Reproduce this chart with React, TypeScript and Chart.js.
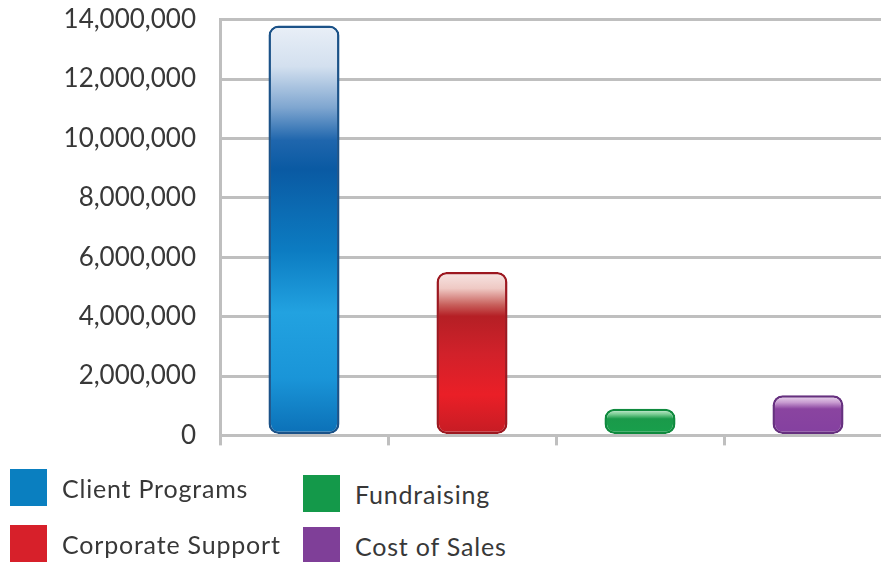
import React, { useEffect, useRef } from "react";
import { Chart, registerables } from "chart.js";

Chart.register(...registerables);

const categories = ["Client Programs", "Corporate Support", "Fundraising", "Cost of Sales"];
const values = [13800000, 5500000, 900000, 1350000];
const yMin = 0;
const yMax = 14000000;
const yStep = 2000000;

const swatchColors = ["#0a7fc0", "#d7202a", "#14994a", "#7f3f98"];
const borderColors = ["#1b5288", "#9c1820", "#0f8a3e", "#66307f"];
const gradientStops: [number, string][][] = [
  [
    [0, "#e9eff7"],
    [0.1, "#d3e0ef"],
    [0.2, "#7fa6d0"],
    [0.28, "#1f66ad"],
    [0.35, "#0a5aa3"],
    [0.55, "#0c7cc2"],
    [0.7, "#22a2e0"],
    [0.86, "#1a95d8"],
    [1, "#0b6fb6"],
  ],
  [
    [0, "#f7e6e4"],
    [0.1, "#efc9c4"],
    [0.2, "#c8605c"],
    [0.27, "#b51f25"],
    [0.5, "#d1212a"],
    [0.75, "#ea1f27"],
    [1, "#c41c24"],
  ],
  [
    [0, "#d6efdd"],
    [0.2, "#7fcf97"],
    [0.38, "#1a9a4a"],
    [1, "#18a04c"],
  ],
  [
    [0, "#f0dff2"],
    [0.18, "#c79ad0"],
    [0.34, "#8a44a0"],
    [1, "#8440a0"],
  ],
];

const FONT = "Lato, 'Open Sans', sans-serif";
const TEXT = "#383838";
const GRID = "#bfbfbf";

const legendPlacement = [
  { left: 10, top: 469 },
  { left: 10, top: 525 },
  { left: 303, top: 475 },
  { left: 303, top: 527 },
];

export default function App() {
  const canvasRef = useRef<HTMLCanvasElement | null>(null);

  useEffect(() => {
    document.body.style.margin = "0";
    const canvas = canvasRef.current;
    if (!canvas) return;
    const chart = new Chart(canvas, {
      type: "bar",
      data: {
        labels: categories,
        datasets: [
          {
            data: values,
            backgroundColor: (ctx: any) => {
              const i = ctx.dataIndex;
              const ys = ctx.chart.scales?.y;
              if (ctx.type !== "data" || !ys) return swatchColors[i];
              const top = ys.getPixelForValue(ctx.raw);
              const bot = ys.getPixelForValue(0);
              if (!isFinite(top) || !isFinite(bot) || bot === top) return swatchColors[i];
              const g = ctx.chart.ctx.createLinearGradient(0, top, 0, bot);
              gradientStops[i].forEach(([o, c]) => g.addColorStop(o, c));
              return g;
            },
            borderColor: borderColors,
            borderWidth: 2.5,
            borderRadius: 10,
            borderSkipped: false,
            categoryPercentage: 1,
            barPercentage: 0.423,
          },
        ],
      },
      options: {
        responsive: false,
        animation: false,
        layout: { padding: { top: 2, left: 0, right: 0, bottom: 0 } },
        plugins: {
          legend: { display: false },
          tooltip: { enabled: false },
        },
        scales: {
          x: {
            grid: {
              display: true,
              drawOnChartArea: false,
              drawTicks: true,
              tickLength: 10,
              color: GRID,
              lineWidth: 3,
            },
            border: { display: false },
            ticks: { display: false },
            afterFit: (scale: any) => {
              scale.height = 20;
            },
          },
          y: {
            min: yMin,
            max: yMax,
            grid: { color: GRID, lineWidth: 3, drawTicks: false },
            border: { display: true, color: GRID, width: 3 },
            ticks: {
              stepSize: yStep,
              padding: 24,
              color: TEXT,
              font: { family: FONT, size: 26 },
              callback: (v: any) => Number(v).toLocaleString("en-US"),
            },
            afterFit: (scale: any) => {
              scale.width = 220;
            },
          },
        },
      },
    });
    return () => chart.destroy();
  }, []);

  const legendItems = categories.map((c, i) => ({ label: c, color: swatchColors[i], ...legendPlacement[i] }));

  return (
    <div style={{ position: "relative", width: 881, height: 562, overflow: "hidden", background: "#ffffff" }}>
      <canvas ref={canvasRef} width={892} height={495} style={{ position: "absolute", left: 0, top: -20, width: 892, height: 495 }} />
      {legendItems.map((it) => (
        <div
          key={it.label}
          style={{
            position: "absolute",
            left: it.left,
            top: it.top,
            display: "flex",
            alignItems: "center",
            fontFamily: FONT,
            fontSize: 25,
            letterSpacing: "0.8px",
            color: TEXT,
            whiteSpace: "nowrap",
          }}
        >
          <span style={{ display: "inline-block", width: 37, height: 37, background: it.color, marginRight: 15 }} />
          <span>{it.label}</span>
        </div>
      ))}
    </div>
  );
}
